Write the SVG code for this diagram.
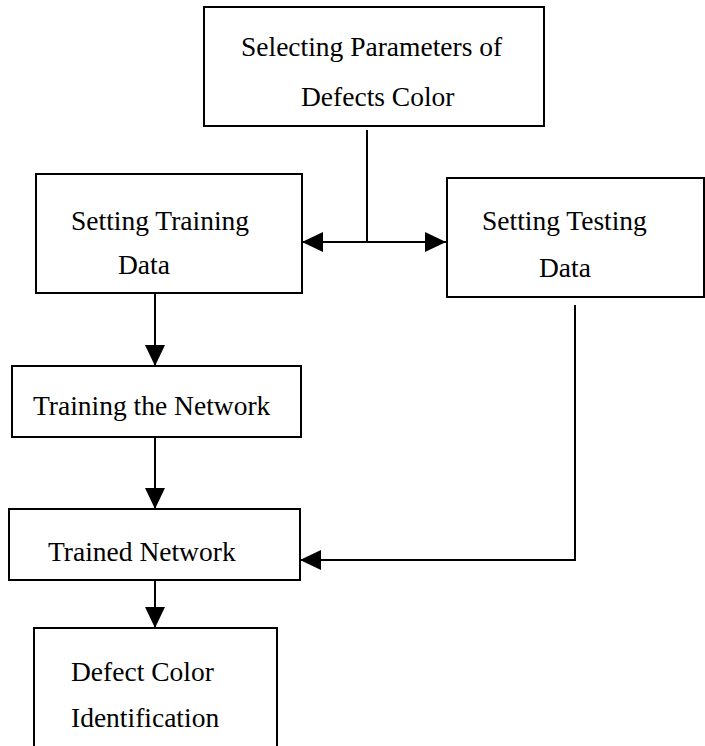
<svg xmlns="http://www.w3.org/2000/svg" width="705" height="746" viewBox="0 0 705 746">
<style>
.box{fill:#fff;stroke:#000;stroke-width:2}
.lbl{font-family:"Liberation Serif","Times New Roman",serif;font-size:27.5px;fill:#000}
.conn{fill:none;stroke:#000;stroke-width:2}
</style>
<defs>
<marker id="ah" markerUnits="userSpaceOnUse" markerWidth="21" markerHeight="20" refX="21" refY="10" orient="auto-start-reverse" viewBox="0 0 21 20">
<path d="M0,0 L21,10 L0,20 z" fill="#000"/>
</marker>
</defs>
<rect width="705" height="746" fill="#fff"/>
<g id="connectors">
<line class="conn" x1="367" y1="130" x2="367" y2="242"/>
<line class="conn" x1="302" y1="242" x2="446" y2="242" marker-start="url(#ah)" marker-end="url(#ah)"/>
<line class="conn" x1="155" y1="293" x2="155" y2="366" marker-end="url(#ah)"/>
<line class="conn" x1="155" y1="437" x2="155" y2="509" marker-end="url(#ah)"/>
<line class="conn" x1="155" y1="580" x2="155" y2="628" marker-end="url(#ah)"/>
<polyline class="conn" points="575,305 575,560 300,560" marker-end="url(#ah)"/>
</g>
<g id="select-params">
<rect class="box" x="204" y="7" width="340" height="119"/>
<text class="lbl" x="241" y="56">Selecting Parameters of</text>
<text class="lbl" x="301" y="106">Defects Color</text>
</g>
<g id="setting-training">
<rect class="box" x="36" y="174" width="266" height="119"/>
<text class="lbl" x="71" y="230">Setting Training</text>
<text class="lbl" x="118" y="274">Data</text>
</g>
<g id="setting-testing">
<rect class="box" x="447" y="178" width="257" height="119"/>
<text class="lbl" x="482" y="230">Setting Testing</text>
<text class="lbl" x="539" y="277">Data</text>
</g>
<g id="training-network">
<rect class="box" x="12" y="366" width="289" height="71"/>
<text class="lbl" x="33" y="415">Training the Network</text>
</g>
<g id="trained-network">
<rect class="box" x="9" y="509" width="291" height="71"/>
<text class="lbl" x="48" y="561">Trained Network</text>
</g>
<g id="defect-color-id">
<rect class="box" x="34" y="628" width="243" height="130"/>
<text class="lbl" x="71" y="681">Defect Color</text>
<text class="lbl" x="71" y="727">Identification</text>
</g>
</svg>
